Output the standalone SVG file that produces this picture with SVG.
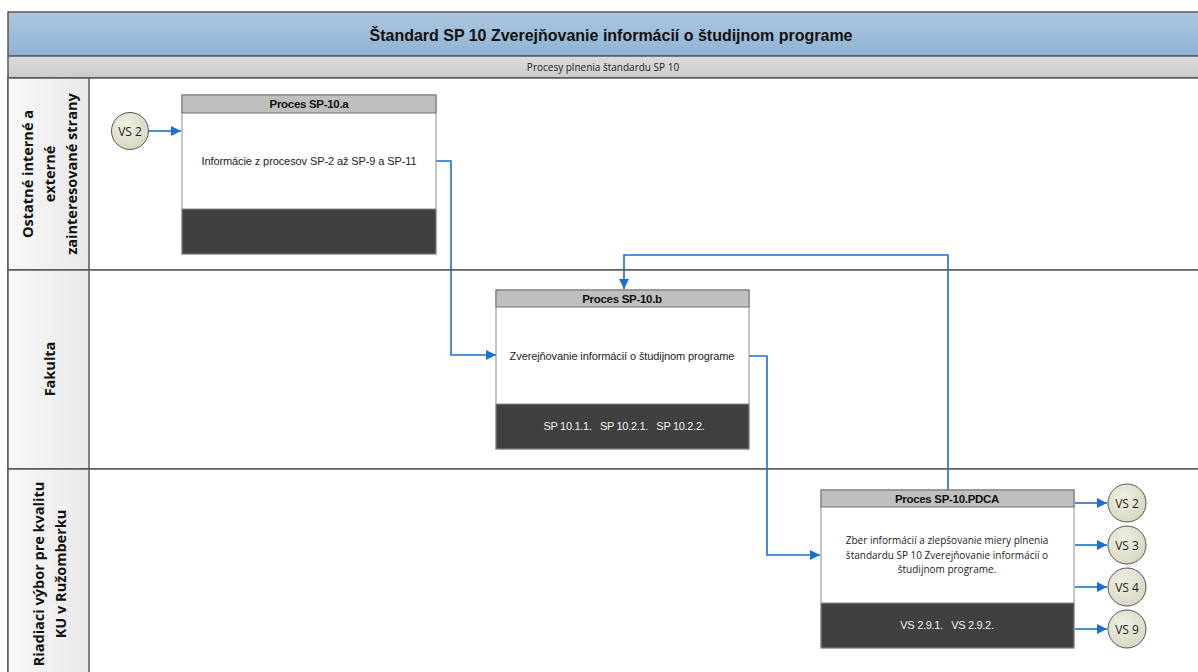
<svg xmlns="http://www.w3.org/2000/svg" width="1198" height="672" viewBox="0 0 1198 672">
<defs>
<linearGradient id="gTitle" x1="0" y1="0" x2="0" y2="1"><stop offset="0" stop-color="#abc7df"/><stop offset="1" stop-color="#8fb2d3"/></linearGradient>
<linearGradient id="gSub" x1="0" y1="0" x2="0" y2="1"><stop offset="0" stop-color="#dcdcdc"/><stop offset="1" stop-color="#cbcbcb"/></linearGradient>
<linearGradient id="gLane" x1="0" y1="0" x2="1" y2="0"><stop offset="0" stop-color="#f8f8f8"/><stop offset="1" stop-color="#e9e9e9"/></linearGradient>
<radialGradient id="gCirc" cx="0.4" cy="0.35" r="0.7"><stop offset="0" stop-color="#f0f0e4"/><stop offset="1" stop-color="#d6d6c0"/></radialGradient>
<marker id="arr" viewBox="0 0 10 10" refX="10" refY="5" markerWidth="10" markerHeight="10" markerUnits="userSpaceOnUse" orient="auto"><path d="M0,0 L10,5 L0,10 z" fill="#1a6fd1"/></marker>
<style>
.frame{fill:none;stroke:#5a5a5a;stroke-width:1.5}
.lane{fill:#fff;stroke:#5a5a5a;stroke-width:1.5}
.lanelbl{fill:url(#gLane);stroke:#5a5a5a;stroke-width:1.5}
.lt{font-family:"Open Sans","Liberation Sans",sans-serif;font-weight:bold;font-size:14.5px;fill:#111;text-anchor:middle}
.hdr{fill:#bfbfbf;stroke:#6e6e6e;stroke-width:1}
.body{fill:#fff;stroke:#8a8a8a;stroke-width:1}
.foot{fill:#404040;stroke:#8a8a8a;stroke-width:1}
.ht{font-family:"Liberation Sans",Arial,sans-serif;font-weight:bold;font-size:11.5px;fill:#111;text-anchor:middle;letter-spacing:-0.3px}
.bt{font-family:"Liberation Sans",Arial,sans-serif;font-size:11px;fill:#222;text-anchor:middle;letter-spacing:-0.1px}
.bt2{font-family:"Open Sans","Liberation Sans",sans-serif;font-size:10px;fill:#222;text-anchor:middle}
.ft{font-family:"Liberation Sans",Arial,sans-serif;font-size:11px;fill:#f2f2f2;text-anchor:middle;letter-spacing:-0.3px;white-space:pre}
.circ{fill:url(#gCirc);stroke:#555;stroke-width:1}
.ct{font-family:"Open Sans","Liberation Sans",sans-serif;font-size:12px;fill:#222;text-anchor:middle}
.con{fill:none;stroke:#1a6fd1;stroke-width:1.6}
</style>
</defs>
<rect x="0" y="0" width="1198" height="672" fill="#fff"/>
<g id="header">
<rect x="8" y="12" width="1200" height="44" fill="url(#gTitle)" stroke="#5a5a5a" stroke-width="1.5"/>
<text x="611" y="41" font-family="Liberation Sans,Arial,sans-serif" font-weight="bold" font-size="17px" fill="#111" text-anchor="middle" textLength="483" lengthAdjust="spacingAndGlyphs">Štandard SP 10 Zverejňovanie informácií o študijnom programe</text>
<rect x="8" y="56" width="1200" height="22" fill="url(#gSub)" stroke="#5a5a5a" stroke-width="1.5"/>
<text x="603" y="71" font-family="Open Sans,Liberation Sans,sans-serif" font-size="10px" fill="#222" text-anchor="middle">Procesy plnenia štandardu SP 10</text>
</g>
<g id="lane1">
<rect class="lane" x="8" y="78" width="1200" height="192"/>
<rect class="lanelbl" x="8" y="78" width="81" height="192"/>
<text class="lt" transform="translate(28,174) rotate(-90)" dy="5">Ostatné interné a</text>
<text class="lt" transform="translate(50,174) rotate(-90)" dy="5">externé</text>
<text class="lt" transform="translate(72,174) rotate(-90)" dy="5">zainteresované strany</text>
</g>
<g id="lane2">
<rect class="lane" x="8" y="270" width="1200" height="199"/>
<rect class="lanelbl" x="8" y="270" width="81" height="199"/>
<text class="lt" transform="translate(50,369) rotate(-90)" dy="5" font-family="Liberation Sans,Arial,sans-serif">Fakulta</text>
</g>
<g id="lane3">
<rect class="lane" x="8" y="469" width="1200" height="220"/>
<rect class="lanelbl" x="8" y="469" width="81" height="220"/>
<text class="lt" transform="translate(39,574) rotate(-90)" dy="5">Riadiaci výbor pre kvalitu</text>
<text class="lt" transform="translate(61,574) rotate(-90)" dy="5">KU v Ružomberku</text>
</g>
<g id="connectors">
<path class="con" d="M149,131 H181" marker-end="url(#arr)"/>
<path class="con" d="M436,161 H451 V355 H496" marker-end="url(#arr)"/>
<path class="con" d="M749,356 H767 V555 H820" marker-end="url(#arr)"/>
<path class="con" d="M948,490 V255 H624 V289" marker-end="url(#arr)"/>
<path class="con" d="M1075,503 H1107" marker-end="url(#arr)"/>
<path class="con" d="M1075,545 H1107" marker-end="url(#arr)"/>
<path class="con" d="M1075,587 H1107" marker-end="url(#arr)"/>
<path class="con" d="M1075,629 H1107" marker-end="url(#arr)"/>
</g>
<g id="vs2-in">
<circle class="circ" cx="130" cy="131" r="18.5"/>
<text class="ct" x="130" y="135.5">VS 2</text>
</g>
<g id="proc-a">
<rect class="body" x="182" y="95" width="254" height="159"/>
<rect class="hdr" x="182" y="95" width="254" height="18"/>
<rect class="foot" x="182" y="209" width="254" height="45"/>
<text class="ht" x="309" y="108">Proces SP-10.a</text>
<text class="bt" x="309" y="165">Informácie z procesov SP-2 až SP-9 a SP-11</text>
</g>
<g id="proc-b">
<rect class="body" x="496" y="290" width="253" height="159"/>
<rect class="hdr" x="496" y="290" width="253" height="17"/>
<rect class="foot" x="496" y="404" width="253" height="45"/>
<text class="ht" x="622" y="302.5">Proces SP-10.b</text>
<text class="bt" x="622" y="360">Zverejňovanie informácií o študijnom programe</text>
<text class="ft" x="624" y="430" xml:space="preserve">SP 10.1.1.   SP 10.2.1.   SP 10.2.2.</text>
</g>
<g id="proc-pdca">
<rect class="body" x="821" y="490" width="253" height="158"/>
<rect class="hdr" x="821" y="490" width="253" height="17"/>
<rect class="foot" x="821" y="603" width="253" height="45"/>
<text class="ht" x="947" y="502.5">Proces SP-10.PDCA</text>
<text class="bt2" x="947" y="544">Zber informácií a zlepšovanie miery plnenia</text>
<text class="bt2" x="947" y="559">štandardu SP 10 Zverejňovanie informácií o</text>
<text class="bt2" x="947" y="573">študijnom programe.</text>
<text class="ft" x="947" y="629" xml:space="preserve">VS 2.9.1.   VS 2.9.2.</text>
</g>
<g id="vs2-out"><circle class="circ" cx="1127" cy="503" r="19"/><text class="ct" x="1127" y="507.5">VS 2</text></g>
<g id="vs3-out"><circle class="circ" cx="1127" cy="545" r="19"/><text class="ct" x="1127" y="549.5">VS 3</text></g>
<g id="vs4-out"><circle class="circ" cx="1127" cy="587" r="19"/><text class="ct" x="1127" y="591.5">VS 4</text></g>
<g id="vs9-out"><circle class="circ" cx="1127" cy="629" r="19"/><text class="ct" x="1127" y="633.5">VS 9</text></g>
</svg>
